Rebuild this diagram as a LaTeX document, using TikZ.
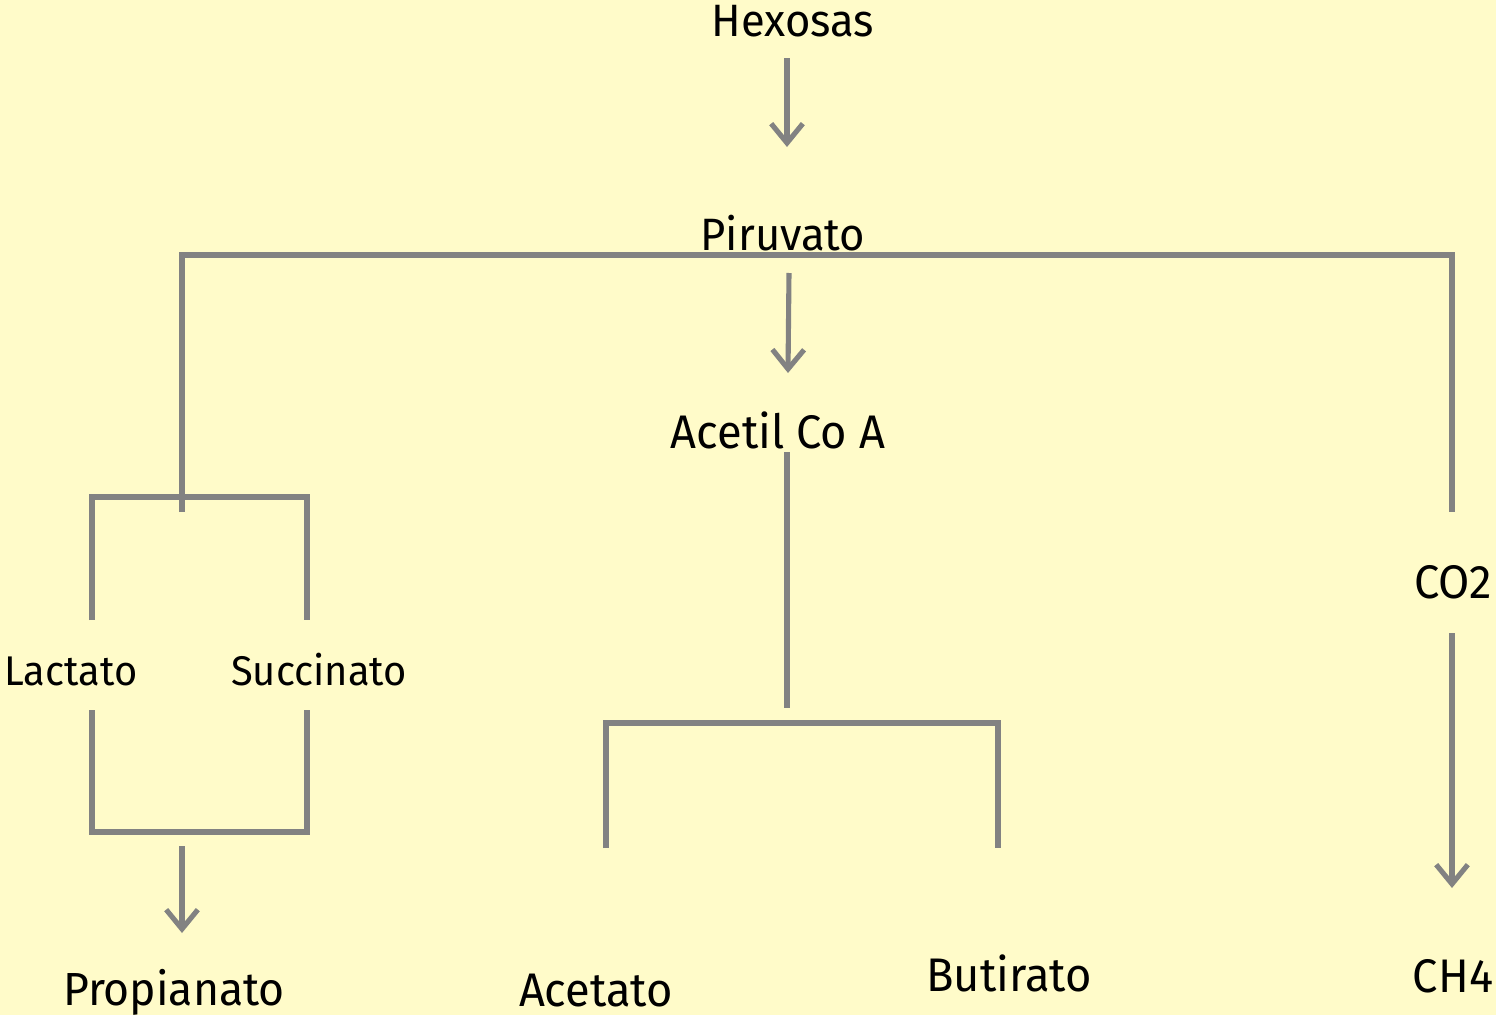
\documentclass[tikz,border=0pt]{standalone}
\usepackage{fontspec}
\setmainfont{Fira Sans}[FakeStretch=0.96]
\definecolor{fondoRumen}{RGB}{255,251,201}
\definecolor{grisLinea}{RGB}{130,130,130}
\usetikzlibrary{arrows.meta}
\tikzset{
  linea/.style={draw=grisLinea, line width=1.45pt},
  flecha/.style={linea, -{Straight Barb[length=5.5pt,width=9pt]}},
  etiq/.style={anchor=base, inner sep=0pt, text=black},
}

\begin{document}
\begin{tikzpicture}[x=0.01cm,y=-0.01cm]
  \fill[fondoRumen] (0,0) rectangle (1496,1015);
  \useasboundingbox (0,0) rectangle (1496,1015);
  % Metabolitos
  \node[etiq,font=\fontsize{12.9}{14}\selectfont] (hex)  at (793,37)   {Hexosas};
  \node[etiq,font=\fontsize{12.9}{14}\selectfont] (piru) at (783,250)  {Piruvato};
  \node[etiq,font=\fontsize{13.4}{15}\selectfont] (acet) at (778,448)  {Acetil Co A};
  \node[etiq,font=\fontsize{11.8}{14}\selectfont] (lac)  at (71,685)   {Lactato};
  \node[etiq,font=\fontsize{11.8}{14}\selectfont] (suc)  at (319,685)  {Succinato};
  \node[etiq,font=\fontsize{13.4}{15}\selectfont] (co2)  at (1453,598) {CO2};
  \node[etiq,font=\fontsize{13.2}{15}\selectfont] (prop) at (174,1005) {Propianato};
  \node[etiq,font=\fontsize{13.4}{15}\selectfont] (acto) at (596,1006) {Acetato};
  \node[etiq,font=\fontsize{13.4}{15}\selectfont] (but)  at (1009,991) {Butirato};
  \node[etiq,font=\fontsize{13.4}{15}\selectfont] (ch4)  at (1453,992) {CH4};
  % Puntos de union
  \coordinate (hexA)  at (787,58);   \coordinate (hexB)  at (787,147);
  \coordinate (piA)   at (789,273);  \coordinate (piB)   at (788,373);
  \coordinate (izq)   at (182,255);  \coordinate (der)   at (1452,255);
  \coordinate (izqB)  at (182,512);  \coordinate (derB)  at (1452,512);
  \coordinate (acA)   at (787,452);  \coordinate (acB)   at (787,708);
  \coordinate (lacA)  at (92,620);   \coordinate (sucA)  at (307,620);
  \coordinate (lacB)  at (92,710);   \coordinate (sucB)  at (307,710);
  \coordinate (prA)   at (182,846);  \coordinate (prB)   at (182,933);
  \coordinate (atA)   at (606,848);  \coordinate (buA)   at (998,848);
  \coordinate (coA)   at (1452,633); \coordinate (coB)   at (1452,888);
  % Conectores
  \draw[flecha] (hexA) -- (hexB);
  \draw[linea] (izqB) -- (izq) -- (der) -- (derB);
  \draw[flecha] (piA) -- (piB);
  \draw[linea] (acA) -- (acB);
  \draw[linea] (lacA) |- (182,497) -| (sucA);
  \draw[linea] (lacB) |- (182,832) -| (sucB);
  \draw[flecha] (prA) -- (prB);
  \draw[linea] (atA) |- (800,723) -| (buA);
  \draw[flecha] (coA) -- (coB);
\end{tikzpicture}
\end{document}
